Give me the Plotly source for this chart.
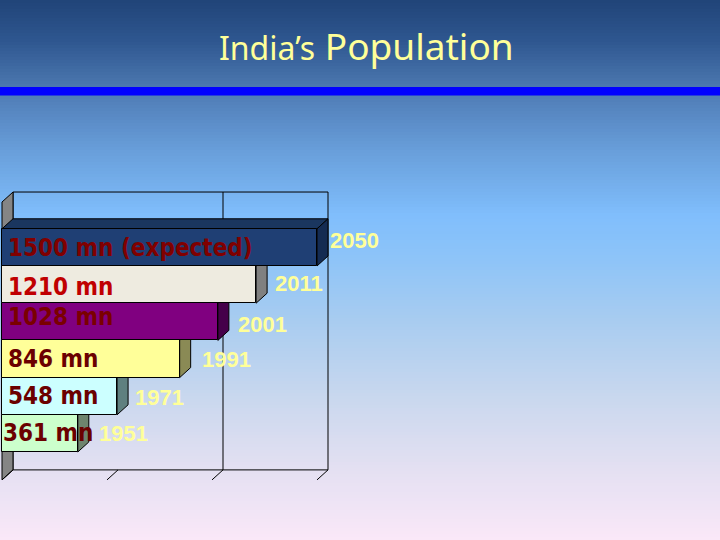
import plotly.graph_objects as go

# ---------------- data ----------------
years = ["1951", "1971", "1991", "2001", "2011", "2050"]
population_mn = [361, 548, 846, 1028, 1210, 1500]
value_labels = ["361 mn", "548 mn", "846 mn", "1028 mn", "1210 mn", "1500 mn (expected)"]
axis_ticks = [0, 500, 1000, 1500]
grid_values = [1000]
title_small = "India’s"
title_big = "Population"

# ---------------- styles ----------------
front_colors = ["#CCFFCC", "#CCFFFF", "#FFFF99", "#800080", "#EEEBE0", "#1F3F74"]
side_colors = ["#6E846E", "#5F8080", "#8A8A55", "#45004A", "#808080", "#142B52"]
top_colors = ["#A8D0A8", "#A8D0D0", "#D0D080", "#5A005A", "#B0B0A8", "#1A365F"]
label_colors = ["#6B0000", "#6B0000", "#6B0000", "#7A0000", "#C00000", "#800000"]
label_xshift = [-1, 4, 4, 4, 4, 4]
label_yshift = [0, 0, 0, 5, -2, -1]
year_xshift = [8, 5, 9, 7, 6, 0]
year_yshift = [0, -1, 0, -3, 1, 7]

W, H = 720, 540
X0_PX = 2.0
SCALE = 315.0 / 1500.0          # px per data unit on x
UNIT_PX = 37.2                  # px per category on y
Y0_PX = 433.4                   # pixel centre of first category
DX = 11.0 / SCALE               # 3D depth in data units
DY = 10.0 / UNIT_PX
Y_LO, Y_HI = -1.25, 6.22        # front plane vertical extent

x_range = [-X0_PX / SCALE, (W - X0_PX) / SCALE]
y_range = [(Y0_PX - H) / UNIT_PX, Y0_PX / UNIT_PX]

shapes = []

# background gradient (bands)
stops = [
    (0, (0x20, 0x44, 0x78)),
    (40, (0x2E, 0x56, 0x8F)),
    (85, (0x4A, 0x76, 0xAE)),
    (100, (0x52, 0x80, 0xBA)),
    (150, (0x68, 0x9E, 0xDA)),
    (215, (0x80, 0xBE, 0xFC)),
    (260, (0x8E, 0xC4, 0xF8)),
    (320, (0xA8, 0xCC, 0xF0)),
    (400, (0xCA, 0xD8, 0xEE)),
    (470, (0xE4, 0xE0, 0xF2)),
    (540, (0xFA, 0xE8, 0xF8)),
]


def grad_color(py):
    for (p0, c0), (p1, c1) in zip(stops[:-1], stops[1:]):
        if p0 <= py <= p1:
            t = (py - p0) / (p1 - p0)
            return "rgb(%d,%d,%d)" % tuple(round(a + (b - a) * t) for a, b in zip(c0, c1))
    return "rgb(%d,%d,%d)" % stops[-1][1]


step = 3
for py in range(0, H, step):
    shapes.append(dict(type="rect", xref="paper", yref="paper", layer="below",
                       x0=0, x1=1, y0=1 - (py + step + 0.6) / H, y1=1 - py / H,
                       fillcolor=grad_color(py + step / 2), line=dict(width=0)))

# blue rule under title
shapes.append(dict(type="rect", xref="paper", yref="paper", layer="below",
                   x0=0, x1=1, y0=1 - 95.5 / H, y1=1 - 87.0 / H,
                   fillcolor="#0000FF", line=dict(width=0)))

# back wall
xmax = axis_ticks[-1]
shapes.append(dict(type="rect", xref="x", yref="y", layer="below",
                   x0=DX, x1=xmax + DX, y0=Y_LO + DY, y1=Y_HI + DY,
                   fillcolor="rgba(0,0,0,0)", line=dict(color="black", width=1)))
for g in grid_values:
    shapes.append(dict(type="line", xref="x", yref="y", layer="below",
                       x0=g + DX, x1=g + DX, y0=Y_LO + DY, y1=Y_HI + DY,
                       line=dict(color="black", width=1)))
# left side wall
shapes.append(dict(type="path", xref="x", yref="y", layer="below",
                   path=f"M 0 {Y_LO} L {DX} {Y_LO + DY} L {DX} {Y_HI + DY} L 0 {Y_HI} Z",
                   fillcolor="#858585", line=dict(color="black", width=1)))
# floor tick marks
for t in axis_ticks:
    shapes.append(dict(type="line", xref="x", yref="y", layer="below",
                       x0=t, x1=t + DX, y0=Y_LO, y1=Y_LO + DY,
                       line=dict(color="black", width=1)))

# 3D faces of bars
for i, v in enumerate(population_mn):
    lo, hi = i - 0.5, i + 0.5
    shapes.append(dict(type="path", xref="x", yref="y", layer="below",
                       path=f"M 0 {hi} L {DX} {hi + DY} L {v + DX} {hi + DY} L {v} {hi} Z",
                       fillcolor=top_colors[i], line=dict(color="black", width=1)))
    shapes.append(dict(type="path", xref="x", yref="y", layer="below",
                       path=f"M {v} {lo} L {v + DX} {lo + DY} L {v + DX} {hi + DY} L {v} {hi} Z",
                       fillcolor=side_colors[i], line=dict(color="black", width=1)))

fig = go.Figure()
fig.add_trace(go.Bar(
    x=population_mn, y=list(range(len(years))), orientation="h", width=1, base=0,
    marker=dict(color=front_colors, line=dict(color="black", width=1)),
    hoverinfo="skip", showlegend=False,
))

annotations = []
for i, (v, lab, yr) in enumerate(zip(population_mn, value_labels, years)):
    annotations.append(dict(x=0, y=i, xref="x", yref="y", text=lab, showarrow=False,
                            xanchor="left", yanchor="middle",
                            xshift=label_xshift[i], yshift=label_yshift[i],
                            font=dict(family="DejaVu Sans Condensed", size=24,
                                      color=label_colors[i], weight="bold")))
    annotations.append(dict(x=v + DX, y=i, xref="x", yref="y", text=yr, showarrow=False,
                            xanchor="left", yanchor="middle",
                            xshift=year_xshift[i], yshift=year_yshift[i],
                            font=dict(family="Liberation Sans", size=22, color="#FFFF99",
                                      weight="bold")))

annotations.append(dict(
    x=366 / W, y=1 - 45 / H, xref="paper", yref="paper", showarrow=False,
    xanchor="center", yanchor="middle",
    text=f"<span style='font-size:32px'>{title_small}</span> {title_big}",
    font=dict(family="Noto Sans", size=37, color="#FFFF99"),
))

fig.update_layout(
    width=W, height=H,
    margin=dict(l=0, r=0, t=0, b=0),
    paper_bgcolor="#9CC0EC",
    plot_bgcolor="rgba(0,0,0,0)",
    xaxis=dict(range=x_range, visible=False, fixedrange=True, domain=[0, 1]),
    yaxis=dict(range=y_range, visible=False, fixedrange=True, domain=[0, 1]),
    bargap=0,
    shapes=shapes,
    annotations=annotations,
    showlegend=False,
)

fig.write_html("out.html",
               config={"displayModeBar": False},
               post_script="document.body.style.margin='0';document.body.style.overflow='hidden';")
